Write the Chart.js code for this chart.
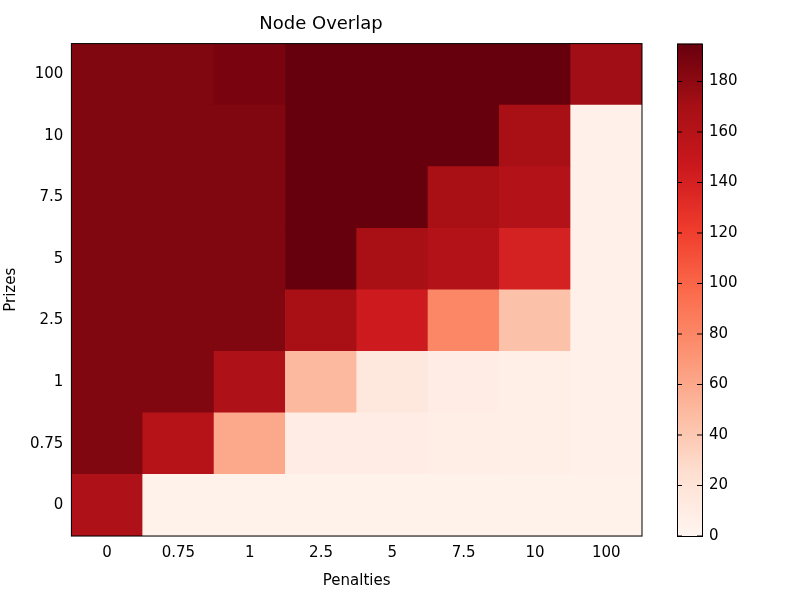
<!DOCTYPE html>
<html>
<head>
<script src="https://cdn.jsdelivr.net/npm/chart.js@4"></script>
<style>body{margin:0;background:#fff}</style>
</head>
<body>
<canvas id="c" width="800" height="600"></canvas>
<script>
const penalties = ['0', '0.75', '1', '2.5', '5', '7.5', '10', '100'];
const prizes = ['0', '0.75', '1', '2.5', '5', '7.5', '10', '100'];
// rows follow prizes (bottom to top), columns follow penalties
const row0 = [165, 4, 4, 4, 4, 4, 4, 4];
const row075 = [185, 160, 60, 10, 10, 8, 7, 5];
const row1 = [185, 185, 165, 50, 15, 10, 7, 5];
const row25 = [185, 185, 185, 168, 145, 80, 45, 5];
const row5 = [185, 185, 185, 195, 168, 162, 140, 5];
const row75 = [185, 185, 185, 195, 195, 168, 162, 5];
const row10 = [185, 185, 185, 195, 195, 195, 168, 5];
const row100 = [185, 185, 188, 195, 195, 195, 195, 172];
const rows = [row0, row075, row1, row25, row5, row75, row10, row100];
const vmax = 195;
const cbTicks = [0, 20, 40, 60, 80, 100, 120, 140, 160, 180];

const stops = ['#fff5f0','#fee0d2','#fcbba1','#fc9272','#fb6a4a','#ef3b2c','#cb181d','#a50f15','#67000d'];
function hex(h) { return [1, 3, 5].map(i => parseInt(h.substr(i, 2), 16)); }
function reds(v) {
  let t = Math.max(0, Math.min(1, v / vmax)) * 8;
  const i = Math.min(7, Math.floor(t)), f = t - i;
  const a = hex(stops[i]), b = hex(stops[i + 1]);
  return 'rgb(' + a.map((x, k) => Math.round(x + (b[k] - x) * f)).join(',') + ')';
}

const font = { family: 'DejaVu Sans', size: 15 };
Chart.defaults.color = '#000';

const colorbar = {
  id: 'colorbar',
  afterDraw(chart) {
    const ctx = chart.ctx, a = chart.chartArea;
    const x = 677, w = 25, top = a.top, bot = a.bottom;
    const g = ctx.createLinearGradient(0, bot, 0, top);
    for (let i = 0; i <= 8; i++) g.addColorStop(i / 8, stops[i]);
    ctx.save();
    ctx.fillStyle = g;
    ctx.fillRect(x, top, w, bot - top);
    ctx.strokeStyle = '#000';
    ctx.lineWidth = 1;
    ctx.strokeRect(x + 0.5, top + 0.5, w, bot - top);
    ctx.fillStyle = '#000';
    ctx.font = '15px DejaVu Sans';
    ctx.textBaseline = 'middle';
    cbTicks.forEach(v => {
      const y = bot - (bot - top) * v / vmax;
      ctx.beginPath();
      ctx.moveTo(x, y); ctx.lineTo(x + 5, y);
      ctx.moveTo(x + w, y); ctx.lineTo(x + w - 5, y);
      ctx.stroke();
      ctx.fillText(String(v), x + w + 7, y);
    });
    // plot frame
    ctx.strokeRect(a.left, a.top, a.right - a.left, a.bottom - a.top);
    ctx.restore();
  }
};

new Chart(document.getElementById('c'), {
  type: 'bar',
  data: {
    labels: penalties,
    datasets: rows.map((r, i) => ({
      label: prizes[i],
      data: r.map(() => 1),
      backgroundColor: r.map(reds),
      barPercentage: 1,
      categoryPercentage: 1,
      borderWidth: 0
    }))
  },
  options: {
    responsive: false,
    animation: false,
    layout: { padding: { right: 158, top: 0, left: 0, bottom: 8 } },
    plugins: {
      legend: { display: false },
      tooltip: { enabled: false },
      title: { display: true, text: 'Node Overlap', font: { family: 'DejaVu Sans', size: 18, weight: 'normal' }, padding: { top: 14, bottom: 8 } }
    },
    scales: {
      x: {
        stacked: true,
        grid: { display: false, drawTicks: false },
        ticks: { font, padding: 8 },
        title: { display: true, text: 'Penalties', font, padding: 2 }
      },
      y: {
        stacked: true,
        min: 0, max: 8,
        afterBuildTicks: s => { s.ticks = prizes.map((_, i) => ({ value: i + 0.5 })); },
        grid: { display: false, drawTicks: false },
        ticks: { font, padding: 8, callback: v => prizes[Math.floor(v)] },
        title: { display: true, text: 'Prizes', font, padding: 2 }
      }
    }
  },
  plugins: [colorbar]
});
</script>
</body>
</html>
